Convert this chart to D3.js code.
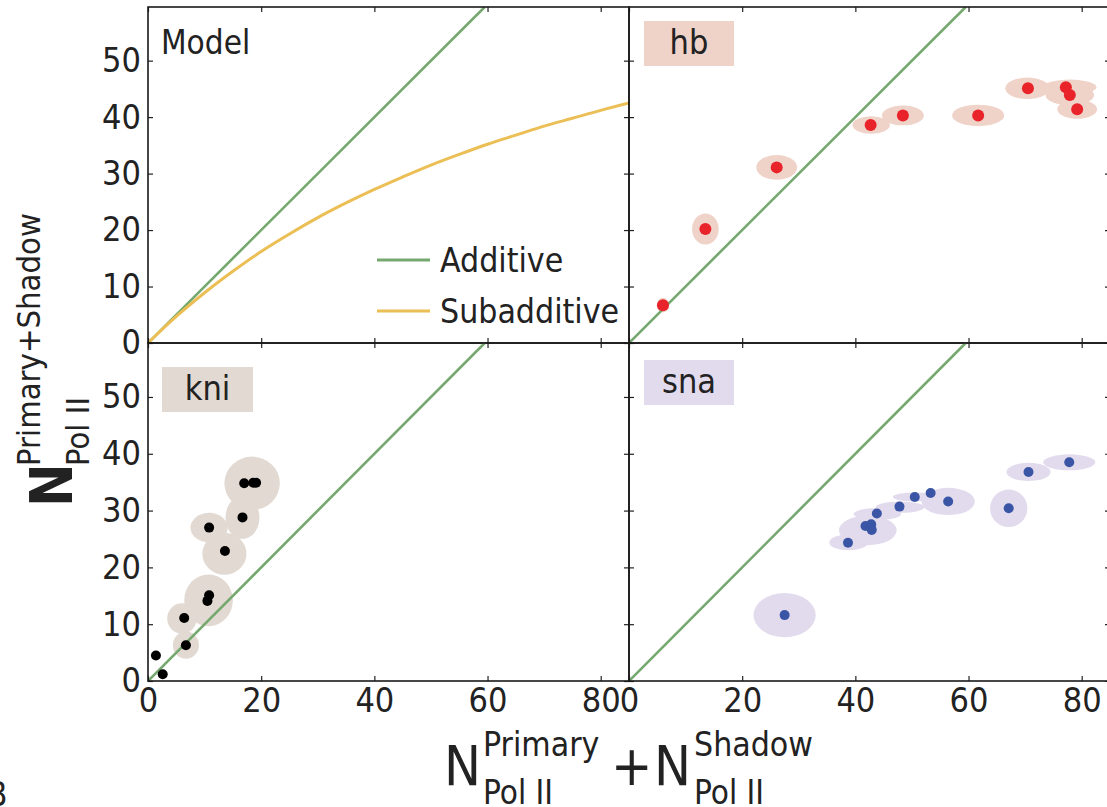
<!DOCTYPE html>
<html><head><meta charset="utf-8">
<script src="https://cdn.jsdelivr.net/npm/d3@7"></script>
<style>
body{margin:0;background:#fff;}
text{font-family:"DejaVu Sans Condensed","DejaVu Sans",sans-serif;font-stretch:condensed;fill:#222;}
</style></head><body>
<svg id="fig" width="1107" height="807"></svg>
<script>
// ---------- data ----------
const xTicks = [0, 20, 40, 60, 80];
const yTicks = [0, 10, 20, 30, 40, 50];
const xMax = 85, yMax = 59.5;

const additiveX = [0, 59.5];
const additiveY = [0, 59.5];

const modelX = [0, 5, 10, 15, 20, 25, 30, 35, 40, 45, 50, 55, 60, 65, 70, 75, 80, 85];
const modelY = [0, 4.7, 8.9, 12.7, 16.2, 19.3, 22.2, 24.8, 27.2, 29.4, 31.5, 33.4, 35.2, 36.8, 38.4, 39.8, 41.2, 42.5];

const legendLabels = ["Additive", "Subadditive"];
const panelNames = ["Model", "hb", "kni", "sna"];

const hbX = [6.0, 13.5, 26.1, 42.7, 48.4, 61.7, 70.5, 77.2, 77.9, 79.2];
const hbY = [6.7, 20.2, 31.1, 38.6, 40.3, 40.3, 45.1, 45.3, 43.9, 41.4];
const hbEllX = [6.0, 13.5, 26.1, 42.8, 48.4, 61.7, 70.4, 77.9, 77.9, 79.2];
const hbEllY = [6.7, 20.2, 31.1, 38.6, 40.3, 40.3, 45.1, 45.3, 43.9, 41.4];
const hbEllRx = [1.1, 2.35, 3.6, 3.3, 3.7, 4.6, 3.9, 4.7, 4.3, 3.5];
const hbEllRy = [1.3, 2.75, 2.2, 1.55, 1.75, 1.9, 1.9, 1.35, 1.8, 1.7];

const kniX = [1.4, 2.6, 6.7, 6.4, 10.5, 10.8, 10.8, 13.6, 16.7, 17.0, 18.6, 19.1];
const kniY = [4.5, 1.2, 6.3, 11.1, 14.1, 15.1, 27.0, 22.9, 28.8, 34.8, 34.9, 34.9];
const kniEllX = [6.7, 6.0, 10.7, 10.8, 13.5, 16.7, 18.4];
const kniEllY = [6.3, 11.0, 14.2, 27.0, 22.4, 28.8, 34.8];
const kniEllRx = [2.3, 2.6, 4.3, 3.3, 3.9, 3.0, 4.9];
const kniEllRy = [2.4, 2.7, 4.55, 2.6, 3.7, 3.8, 4.7];

const snaX = [27.5, 38.7, 41.8, 42.8, 42.9, 43.8, 47.8, 50.5, 53.3, 56.4, 67.1, 70.6, 77.8];
const snaY = [11.6, 24.35, 27.3, 27.6, 26.6, 29.5, 30.7, 32.4, 33.1, 31.6, 30.4, 36.8, 38.5];
const snaEllX = [27.5, 38.8, 42.2, 43.9, 47.9, 50.6, 56.4, 67.1, 70.6, 77.8];
const snaEllY = [11.6, 24.4, 26.5, 29.4, 30.6, 32.4, 31.6, 30.4, 36.8, 38.5];
const snaEllRx = [5.5, 3.4, 5.1, 4.2, 4.3, 4.0, 4.7, 3.3, 3.9, 4.6];
const snaEllRy = [3.9, 1.4, 2.6, 1.06, 1.0, 0.8, 2.4, 3.3, 1.6, 1.4];

// ---------- styles ----------
const GREEN = "#74a86e", YELLOW = "#ebbf55";
const svg = d3.select("#fig");
const colL = [148, 629], colR = [629, 1110];
const rowT = [343, 7], rowB = [681, 343];

const panels = [
  {name: panelNames[0], xr: colL, yr: rowT, col: 0, row: 0},
  {name: panelNames[1], xr: colR, yr: rowT, col: 1, row: 0,
   px: hbX, py: hbY, ex: hbEllX, ey: hbEllY, erx: hbEllRx, ery: hbEllRy, dot: "#e8232a", ell: "#efd2c8", r: 6,
   box: [644, 21, 90, 45], tb: 54},
  {name: panelNames[2], xr: colL, yr: rowB, col: 0, row: 1,
   px: kniX, py: kniY, ex: kniEllX, ey: kniEllY, erx: kniEllRx, ery: kniEllRy, dot: "#000", ell: "#e2dad2", r: 5,
   box: [162, 367, 91, 45], tb: 400},
  {name: panelNames[3], xr: colR, yr: rowB, col: 1, row: 1,
   px: snaX, py: snaY, ex: snaEllX, ey: snaEllY, erx: snaEllRx, ery: snaEllRy, dot: "#3a55a5", ell: "#e2dbed", r: 5,
   box: [644, 360, 90, 45], tb: 393}
];

panels.forEach((p, i) => {
  const x = d3.scaleLinear().domain([0, xMax]).range(p.xr);
  const y = d3.scaleLinear().domain([0, yMax]).range(p.yr);
  const clipId = "clip" + i;
  svg.append("clipPath").attr("id", clipId).append("rect")
    .attr("x", p.xr[0]).attr("y", p.yr[1]).attr("width", p.xr[1] - p.xr[0]).attr("height", p.yr[0] - p.yr[1]);
  const g = svg.append("g").attr("clip-path", `url(#${clipId})`);

  if (p.name === "Model") {
    g.append("path").datum(d3.zip(additiveX, additiveY))
      .attr("d", d3.line().x(d => x(d[0])).y(d => y(d[1])))
      .attr("fill", "none").attr("stroke", GREEN).attr("stroke-width", 2.6);
    g.append("path").datum(d3.zip(modelX, modelY))
      .attr("d", d3.line().curve(d3.curveMonotoneX).x(d => x(d[0])).y(d => y(d[1])))
      .attr("fill", "none").attr("stroke", YELLOW).attr("stroke-width", 3);
    svg.append("text").attr("x", 161).attr("y", 54).attr("font-size", 33).text(p.name);
    // legend
    const lg = [[GREEN, 260], [YELLOW, 311]];
    lg.forEach((l, k) => {
      svg.append("line").attr("x1", 377).attr("x2", 430).attr("y1", l[1]).attr("y2", l[1])
        .attr("stroke", l[0]).attr("stroke-width", 3);
      svg.append("text").attr("x", 440).attr("y", l[1] + 12).attr("font-size", 33.5).text(legendLabels[k]);
    });
  } else {
    g.selectAll("ellipse").data(d3.range(p.ex.length)).join("ellipse")
      .attr("cx", k => x(p.ex[k])).attr("cy", k => y(p.ey[k]))
      .attr("rx", k => x(p.erx[k]) - x(0)).attr("ry", k => y(0) - y(p.ery[k]))
      .attr("fill", p.ell);
    g.append("path").datum(d3.zip(additiveX, additiveY))
      .attr("d", d3.line().x(d => x(d[0])).y(d => y(d[1])))
      .attr("fill", "none").attr("stroke", GREEN).attr("stroke-width", 2.6);
    g.selectAll("circle").data(d3.range(p.px.length)).join("circle")
      .attr("cx", k => x(p.px[k])).attr("cy", k => y(p.py[k])).attr("r", p.r).attr("fill", p.dot);
    svg.append("rect").attr("x", p.box[0]).attr("y", p.box[1]).attr("width", p.box[2]).attr("height", p.box[3])
      .attr("fill", p.ell);
    svg.append("text").attr("x", p.box[0] + p.box[2] / 2).attr("y", p.tb).attr("text-anchor", "middle")
      .attr("font-size", 34).text(p.name);
  }

  // axes, ticks inward on all sides
  const ax = (gen, tx, ty, labels) => {
    const a = svg.append("g").attr("transform", `translate(${tx},${ty})`).call(gen);
    a.select(".domain").remove();
    a.selectAll(".tick line").attr("stroke", "#222").attr("stroke-width", 1.2);
    a.selectAll(".tick text").attr("font-size", 34).attr("fill", "#222")
      .attr("font-family", '"DejaVu Sans Condensed","DejaVu Sans",sans-serif');
    if (!labels) a.selectAll(".tick text").remove();
    return a;
  };
  ax(d3.axisLeft(y).tickValues(yTicks).tickSizeInner(-5).tickSizeOuter(0).tickPadding(7), p.xr[0], 0, p.col === 0);
  ax(d3.axisRight(y).tickValues(yTicks).tickSizeInner(-5).tickSizeOuter(0), p.xr[1], 0, false);
  ax(d3.axisTop(x).tickValues(xTicks).tickSizeInner(-5).tickSizeOuter(0), 0, p.yr[1], false);
  ax(d3.axisBottom(x).tickValues(xTicks).tickSizeInner(-5).tickSizeOuter(0).tickPadding(7), 0, p.yr[0], p.row === 1);

  svg.append("rect").attr("x", p.xr[0]).attr("y", p.yr[1]).attr("width", p.xr[1] - p.xr[0])
    .attr("height", p.yr[0] - p.yr[1]).attr("fill", "none").attr("stroke", "#1a1a1a").attr("stroke-width", 1.6);
});

// ---------- axis titles ----------
const xl = svg.append("g");
xl.append("text").attr("x", 444).attr("y", 785).attr("font-size", 55).text("N");
xl.append("text").attr("x", 483).attr("y", 756).attr("font-size", 33.5).text("Primary");
xl.append("text").attr("x", 483).attr("y", 804).attr("font-size", 33).text("Pol II");
xl.append("text").attr("x", 611).attr("y", 785).attr("font-size", 55).text("+");
xl.append("text").attr("x", 654).attr("y", 785).attr("font-size", 55).text("N");
xl.append("text").attr("x", 694).attr("y", 756).attr("font-size", 33.5).text("Shadow");
xl.append("text").attr("x", 694).attr("y", 804).attr("font-size", 33).text("Pol II");

const yl = svg.append("g").attr("transform", "translate(72,507) rotate(-90)");
yl.append("text").attr("x", 0).attr("y", 0).attr("font-size", 58).attr("font-weight", "bold").text("N");
yl.append("text").attr("x", 41).attr("y", -32).attr("font-size", 32.5).text("Primary+Shadow");
yl.append("text").attr("x", 41).attr("y", 17).attr("font-size", 32.5).text("Pol II");

svg.append("text").attr("x", -13).attr("y", 806).attr("font-size", 33).text("B");
</script></body></html>
